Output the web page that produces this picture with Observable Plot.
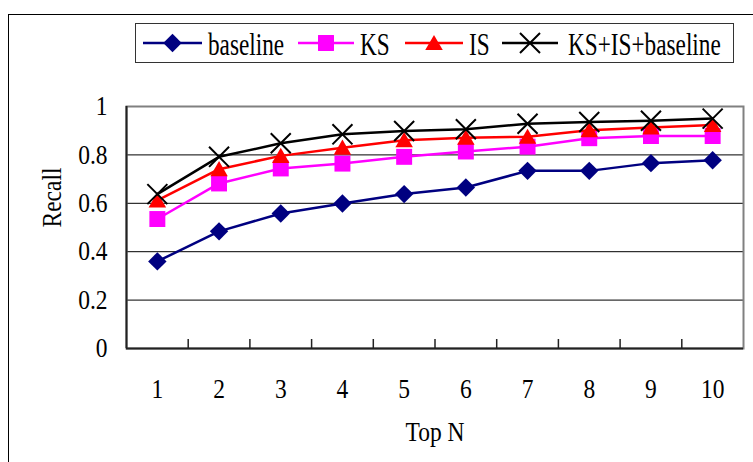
<!DOCTYPE html>
<html><head><meta charset="utf-8">
<script src="https://cdn.jsdelivr.net/npm/d3@7"></script>
<script src="https://cdn.jsdelivr.net/npm/@observablehq/plot@0.6"></script>
<style>
html,body{margin:0;padding:0;background:#fff;}
#wrap{position:relative;width:753px;height:462px;overflow:hidden;font-family:"Liberation Serif","Times New Roman",serif;}
#border{position:absolute;left:8px;top:14px;width:800px;height:500px;border:1.5px solid #000;box-sizing:border-box;}
#chart{position:absolute;left:0;top:0;}
#legend{position:absolute;left:0;top:0;}
</style></head><body>
<div id="wrap"><div id="border"></div><div id="chart"></div><svg id="legend" width="753" height="70"></svg></div>
<script>
const topN = [1,2,3,4,5,6,7,8,9,10];
const baseline = [0.36,0.484,0.558,0.599,0.638,0.665,0.734,0.734,0.766,0.778];
const ks = [0.535,0.682,0.744,0.764,0.792,0.814,0.834,0.869,0.878,0.878];
const is = [0.612,0.741,0.796,0.83,0.861,0.871,0.875,0.902,0.913,0.924];
const combined = [0.638,0.792,0.848,0.885,0.899,0.906,0.929,0.936,0.941,0.95];
const seriesNames = ["baseline","KS","IS","KS+IS+baseline"];
const seriesValues = [baseline, ks, is, combined];
const seriesColors = ["#000080","#FF00FF","#FF0000","#000000"];
const seriesSymbols = ["diamond2","square","triangle","times"];
const yTicks = [0,0.2,0.4,0.6,0.8,1];
const yTickLabels = ["0","0.2","0.4","0.6","0.8","1"];
const xLabel = "Top N", yLabel = "Recall";

const FONT = "Liberation Serif, Times New Roman, serif";
const SX = 0.87;      // axis text condensing
const LSX = 0.75;     // legend text condensing
const symR = {diamond2: 8.3, square: 9, triangle: 6.5, times: 9.15};

const xDomain = [topN[0] - 0.5, topN[topN.length-1] + 0.5];
const bounds = topN.slice(0, -1).map(d => d + 0.5);

const rows = [];
seriesNames.forEach((s, k) => topN.forEach((n, i) => rows.push({n, value: seriesValues[k][i], series: s})));

const seriesMarks = [];
seriesNames.forEach((s, k) => {
  const data = rows.filter(r => r.series === s);
  const sym = seriesSymbols[k];
  seriesMarks.push(Plot.line(data, {x: "n", y: "value", stroke: seriesColors[k], strokeWidth: 2.5}));
  if (sym === "times") {
    seriesMarks.push(Plot.dot(data, {x: "n", y: "value", symbol: sym, r: symR[sym], stroke: seriesColors[k], fill: "none", strokeWidth: 2}));
  } else {
    seriesMarks.push(Plot.dot(data, {x: "n", y: "value", symbol: sym, r: symR[sym], fill: seriesColors[k], stroke: "none", dy: sym === "triangle" ? 2 : 0}));
  }
});

const plot = Plot.plot({
  width: 753, height: 462,
  marginLeft: 126, marginRight: 10, marginTop: 106, marginBottom: 114,
  x: {type: "linear", domain: xDomain},
  y: {domain: [0, 1]},
  style: {fontFamily: FONT, fontSize: "27px", color: "#000", background: "transparent"},
  marks: [
    Plot.ruleY(yTicks.slice(1, -1), {stroke: "#000", strokeWidth: 1}),
    Plot.frame({stroke: "#808080", strokeWidth: 2}),
    Plot.ruleY([yTicks[0]], {stroke: "#222", strokeWidth: 2}),
    Plot.ruleX([xDomain[0]], {stroke: "#222", strokeWidth: 2}),
    Plot.ruleX(bounds, {y1: 0, y2: 0, insetTop: -9, stroke: "#222", strokeWidth: 1.5}),
    Plot.axisX({ticks: topN, tickSize: 0, tickPadding: 30, tickFormat: d => String(d), label: null}),
    Plot.axisY({ticks: yTicks, tickSize: 0, tickPadding: 19, tickFormat: d => yTickLabels[yTicks.indexOf(d)], label: null}),
    ...seriesMarks,
    Plot.text([xLabel], {frameAnchor: "bottom", dy: 84, text: d => d, lineAnchor: "middle"}),
    Plot.text([yLabel], {frameAnchor: "left", dx: -74, rotate: -90, text: d => d})
  ]
});
document.getElementById("chart").appendChild(plot);

// condense serif glyphs horizontally (narrow serif look)
plot.querySelectorAll("text").forEach(t => {
  const b = t.getBBox();
  const a = getComputedStyle(t).textAnchor;
  const cx = a === "end" ? b.x + b.width : a === "start" ? b.x : b.x + b.width / 2;
  t.setAttribute("transform", (t.getAttribute("transform") || "") + ` translate(${cx},0) scale(${SX},1) translate(${-cx},0)`);
});

// legend
const lg = d3.select("#legend");
lg.append("rect").attr("x", 135.5).attr("y", 23.5).attr("width", 598).attr("height", 39)
  .attr("fill", "#fff").attr("stroke", "#333").attr("stroke-width", 1);
const items = [
  {x0: 143, x1: 202, tx: 208},
  {x0: 298, x1: 354, tx: 360},
  {x0: 405, x1: 463, tx: 469},
  {x0: 502, x1: 558, tx: 568}
];
const d3sym = {diamond2: d3.symbolDiamond2, square: d3.symbolSquare, triangle: d3.symbolTriangle, times: d3.symbolTimes};
seriesNames.forEach((s, k) => {
  const it = items[k], cy = 43, mx = (it.x0 + it.x1) / 2;
  const sym = seriesSymbols[k];
  lg.append("line").attr("x1", it.x0).attr("x2", it.x1).attr("y1", cy).attr("y2", cy)
    .attr("stroke", seriesColors[k]).attr("stroke-width", 2.5);
  const size = Math.PI * symR[sym] * symR[sym];
  const p = lg.append("path").attr("d", d3.symbol(d3sym[sym], size)())
    .attr("transform", `translate(${mx},${cy + (sym === "triangle" ? 2 : 0)})`);
  if (sym === "times") p.attr("fill", "none").attr("stroke", seriesColors[k]).attr("stroke-width", 2);
  else p.attr("fill", seriesColors[k]);
  lg.append("text").attr("transform", `translate(${it.tx},55) scale(${LSX},1)`)
    .attr("font-family", FONT).attr("font-size", 31).attr("fill", "#000").text(s);
});
</script>
</body></html>
